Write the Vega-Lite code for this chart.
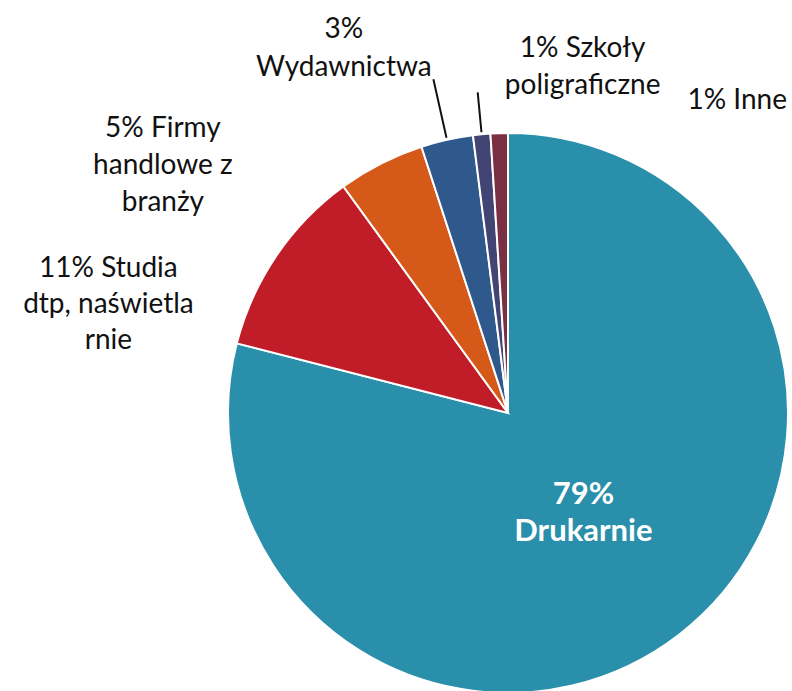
{
  "$schema": "https://vega.github.io/schema/vega-lite/v6.json",
  "width": 568,
  "height": 556,
  "autosize": "none",
  "padding": {"left": 224, "top": 135, "right": 0, "bottom": 0},
  "background": "white",
  "view": {"stroke": null},
  "data": {
    "values": [
      {"cat": "Drukarnie", "value": 79, "order": 1, "label": "79%\nDrukarnie"},
      {"cat": "Studia dtp, naświetlarnie", "value": 11, "order": 2, "label": "11% Studia\ndtp, naświetla\nrnie"},
      {"cat": "Firmy handlowe z branży", "value": 5, "order": 3, "label": "5% Firmy\nhandlowe z\nbranży"},
      {"cat": "Wydawnictwa", "value": 3, "order": 4, "label": "3%\nWydawnictwa"},
      {"cat": "Szkoły poligraficzne", "value": 1, "order": 5, "label": "1% Szkoły\npoligraficzne"},
      {"cat": "Inne", "value": 1, "order": 6, "label": "1% Inne"}
    ]
  },
  "encoding": {
    "theta": {"field": "value", "type": "quantitative", "stack": true},
    "order": {"field": "order", "type": "quantitative"}
  },
  "layer": [
    {
      "mark": {"type": "arc", "radius": 280, "stroke": "white", "strokeWidth": 2},
      "encoding": {
        "color": {
          "field": "cat",
          "type": "nominal",
          "scale": {
            "domain": ["Drukarnie", "Studia dtp, naświetlarnie", "Firmy handlowe z branży", "Wydawnictwa", "Szkoły poligraficzne", "Inne"],
            "range": ["#2A8FAA", "#C01D28", "#D55A19", "#2F588C", "#424474", "#7B2F42"]
          },
          "legend": null
        }
      }
    },
    {
      "transform": [{"stack": "value", "groupby": [], "sort": [{"field": "order", "order": "ascending"}], "as": ["v0", "v1"]}],
      "mark": {"type": "arc", "radius": 342, "radius2": 282, "thetaOffset": 0.09425, "theta2Offset": 0.09425, "fillOpacity": 0, "stroke": "#111111", "strokeWidth": 2},
      "encoding": {
        "theta": {"field": "v0", "type": "quantitative", "stack": null},
        "theta2": {"field": "v0"},
        "strokeOpacity": {"condition": {"test": "datum.cat === 'Wydawnictwa'", "value": 1}, "value": 0}
      }
    },
    {
      "transform": [{"stack": "value", "groupby": [], "sort": [{"field": "order", "order": "ascending"}], "as": ["v0", "v1"]}],
      "mark": {"type": "arc", "radius": 322, "radius2": 282, "thetaOffset": 0.031416, "theta2Offset": 0.031416, "fillOpacity": 0, "stroke": "#111111", "strokeWidth": 2},
      "encoding": {
        "theta": {"field": "v0", "type": "quantitative", "stack": null},
        "theta2": {"field": "v0"},
        "strokeOpacity": {"condition": {"test": "datum.cat === 'Szkoły poligraficzne'", "value": 1}, "value": 0}
      }
    },
    {
      "mark": {"type": "text", "radius": 123, "dy": -15, "font": "Lato", "fontSize": 31, "fontWeight": "bold", "fill": "white", "lineBreak": "\n", "lineHeight": 37, "align": "center", "baseline": "middle"},
      "encoding": {"text": {"condition": {"test": "datum.cat === 'Drukarnie'", "field": "label", "type": "nominal"}, "value": ""}}
    },
    {
      "mark": {"type": "text", "radius": 280, "dx": -168, "dy": 13, "font": "Lato", "fontSize": 28, "fill": "#111111", "lineBreak": "\n", "lineHeight": 36, "align": "center", "baseline": "middle"},
      "encoding": {"text": {"condition": {"test": "datum.cat === 'Studia dtp, naświetlarnie'", "field": "label", "type": "nominal"}, "value": ""}}
    },
    {
      "mark": {"type": "text", "radius": 280, "dx": -218, "dy": -35, "font": "Lato", "fontSize": 28, "fill": "#111111", "lineBreak": "\n", "lineHeight": 37, "align": "center", "baseline": "middle"},
      "encoding": {"text": {"condition": {"test": "datum.cat === 'Firmy handlowe z branży'", "field": "label", "type": "nominal"}, "value": ""}}
    },
    {
      "mark": {"type": "text", "radius": 280, "dx": -103, "dy": -110, "font": "Lato", "fontSize": 28, "fill": "#111111", "lineBreak": "\n", "lineHeight": 38, "align": "center", "baseline": "middle"},
      "encoding": {"text": {"condition": {"test": "datum.cat === 'Wydawnictwa'", "field": "label", "type": "nominal"}, "value": ""}}
    },
    {
      "mark": {"type": "text", "radius": 280, "dx": 101, "dy": -85, "font": "Lato", "fontSize": 28, "fill": "#111111", "lineBreak": "\n", "lineHeight": 37, "align": "center", "baseline": "middle"},
      "encoding": {"text": {"condition": {"test": "datum.cat === 'Szkoły poligraficzne'", "field": "label", "type": "nominal"}, "value": ""}}
    },
    {
      "mark": {"type": "text", "radius": 280, "dx": 238, "dy": -32, "font": "Lato", "fontSize": 28, "fill": "#111111", "lineBreak": "\n", "lineHeight": 37, "align": "center", "baseline": "middle"},
      "encoding": {"text": {"condition": {"test": "datum.cat === 'Inne'", "field": "label", "type": "nominal"}, "value": ""}}
    }
  ]
}
